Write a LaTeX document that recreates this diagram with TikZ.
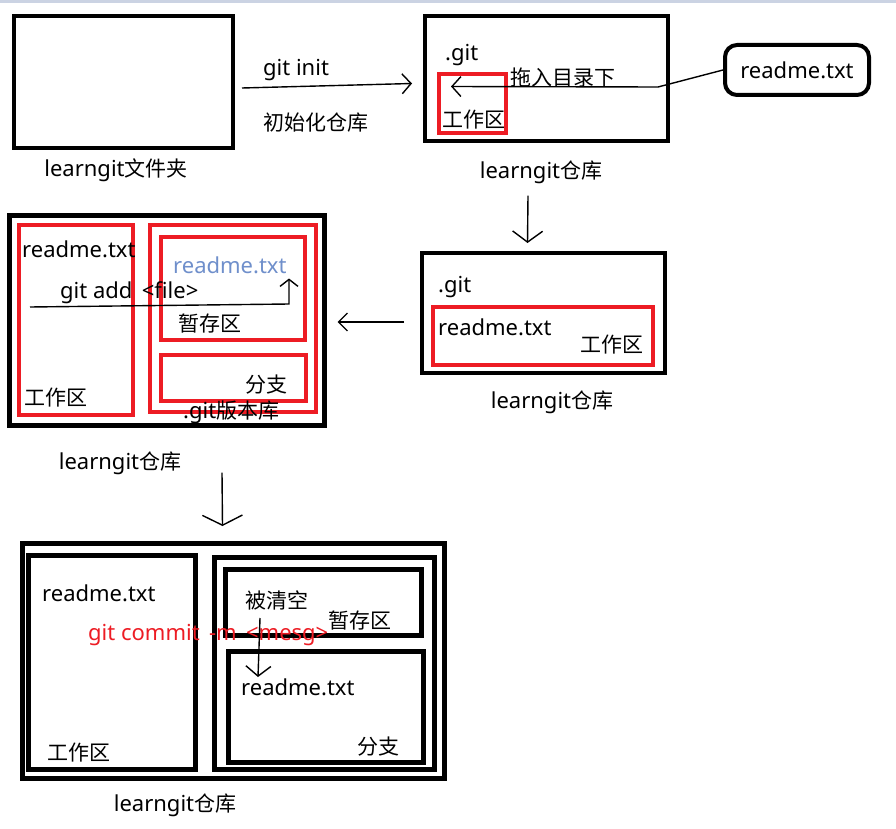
\documentclass[tikz,border=0pt]{standalone}
\usepackage{fontspec}
\setmainfont{Noto Sans}
\newfontfamily\cjk{Noto Sans CJK SC}
\usetikzlibrary{arrows.meta,calc}
\definecolor{pred}{HTML}{ED1C24}
\definecolor{pblue}{HTML}{6F8FCB}
\definecolor{pbar}{HTML}{CBD3E3}
\begin{document}
\begin{tikzpicture}[x=1pt,y=-1pt,
  box/.style={draw=black,line width=4pt,inner sep=0pt},
  rbox/.style={draw=pred,line width=4pt,inner sep=0pt},
  lbl/.style={inner sep=0pt,anchor=west,font=\fontsize{22}{26}\selectfont},
  clbl/.style={inner sep=0pt,font=\fontsize{22}{26}\selectfont},
  arr/.style={line width=1.4pt,-{Straight Barb[length=9pt,width=20pt,line width=1.4pt]}},
  ln/.style={line width=1.4pt}]
\useasboundingbox (0,0) rectangle (896,829);
\fill[white] (0,0) rectangle (896,829);
\fill[pbar] (0,0) rectangle (896,3);
% ---- box 1
\node[box,minimum width=219pt,minimum height=132pt] (b1) at (123.5,82) {};
\node[clbl] (l1) at (116,170) {learngit{\cjk\fontsize{21}{25}\selectfont 文件夹}};
\node[lbl] (gi) at (263,70) {git init};
\node[lbl] (gi2) at (263,123) {\cjk\fontsize{21}{25}\selectfont 初始化仓库};
% ---- box 2
\node[box,minimum width=243pt,minimum height=125pt] (b2) at (546.5,78.5) {};
\node[lbl] (g2) at (445,55) {.git};
\node[rbox,minimum width=67pt,minimum height=59pt] (r2) at (472.5,103.5) {};
\node[lbl] (w2) at (442,120) {\cjk\fontsize{21}{25}\selectfont 工作区};
\node[lbl] (drag) at (510,78) {\cjk\fontsize{21}{25}\selectfont 拖入目录下};
\node[box,rounded corners=12pt,minimum width=144pt,minimum height=50pt] (rd) at (797,70) {};
\node[clbl] at (rd.center) {readme.txt};
\node[clbl] (l2) at (541,172) {learngit{\cjk\fontsize{21}{25}\selectfont 仓库}};
% ---- box 3
\node[box,minimum width=243pt,minimum height=120pt] (b3) at (543.5,313) {};
\node[lbl] (g3) at (438,287) {.git};
\node[rbox,minimum width=220pt,minimum height=58pt] (r3) at (543,336) {};
\node[lbl] (rm3) at (438,327) {readme.txt};
\node[lbl] (w3) at (580,345) {\cjk\fontsize{21}{25}\selectfont 工作区};
\node[clbl] (l3) at (552,402) {learngit{\cjk\fontsize{21}{25}\selectfont 仓库}};
% ---- box 4
\node[box,line width=5pt,minimum width=315pt,minimum height=210pt] (b4) at (167,320.5) {};
\node[rbox,minimum width=114pt,minimum height=190pt] (r4l) at (76,320) {};
\node[rbox,minimum width=166pt,minimum height=187pt] (r4r) at (233,318.5) {};
\node[rbox,minimum width=144pt,minimum height=103pt] (r4s) at (233,288.5) {};
\node[rbox,minimum width=145pt,minimum height=46pt] (r4b) at (233.5,378) {};
\node[lbl] (rm4) at (22,249) {readme.txt};
\node[lbl,text=pblue] (rm4b) at (173,265) {readme.txt};
\node[lbl] (ga) at (60,293) {git add \,<file>};
\node[lbl] (s4) at (178,323) {\cjk\fontsize{21}{25}\selectfont 暂存区};
\node[lbl] (fz4) at (245,385) {\cjk\fontsize{21}{25}\selectfont 分支};
\node[lbl] (gv4) at (183,412) {.git{\cjk\fontsize{21}{25}\selectfont 版本库}};
\node[lbl] (w4) at (24,398) {\cjk\fontsize{21}{25}\selectfont 工作区};
\node[clbl] (l4) at (120,463) {learngit{\cjk\fontsize{21}{25}\selectfont 仓库}};
% ---- box 5
\node[box,line width=5pt,minimum width=422pt,minimum height=235pt] (b5) at (233.5,661) {};
\node[box,line width=5pt,minimum width=167pt,minimum height=214pt] (b5l) at (112,662.5) {};
\node[box,line width=5pt,minimum width=220pt,minimum height=212pt] (b5r) at (324.5,663.5) {};
\node[box,line width=5pt,minimum width=196pt,minimum height=66pt] (b5s) at (323.5,602.5) {};
\node[box,line width=5pt,minimum width=195pt,minimum height=111pt] (b5b) at (326,707) {};
\node[lbl] (rm5) at (42,593) {readme.txt};
\node[lbl] (w5) at (47,753) {\cjk\fontsize{21}{25}\selectfont 工作区};
\node[lbl] (qk) at (245,600) {\cjk\fontsize{21}{25}\selectfont 被清空};
\node[lbl] (s5) at (328,620) {\cjk\fontsize{21}{25}\selectfont 暂存区};
\node[lbl,text=pred] (gc) at (88,635) {git commit \,-m \,<mesg>};
\node[lbl] (rm5b) at (241,687) {readme.txt};
\node[lbl] (fz5) at (357,747) {\cjk\fontsize{21}{25}\selectfont 分支};
\node[clbl] (l5) at (175,805) {learngit{\cjk\fontsize{21}{25}\selectfont 仓库}};
% ---- connectors
\draw[arr] ($(b1.east)+(7,6)$) -- ($(b2.west)+(-11,5)$);
\draw[arr] (rd.west) -- ($(rd.west)+(-65,17)$) -- ($(r2.west)+(14,-17)$);
\draw[arr,-{Straight Barb[length=11pt,width=30pt,line width=1.4pt]}] ($(l2.south)+(-13,12)$) -- ($(b3.north)+(-16,-8)$);
\draw[arr,-{Straight Barb[length=9pt,width=18pt,line width=1.4pt]}] ($(b3.west)+(-16,9)$) -- ($(b4.east)+(10.5,1.5)$);
\draw[arr,-{Straight Barb[length=7pt,width=18pt,line width=1.4pt]}] ($(r4l.west)+(13,-13)$) -- ($(r4s.east)+(-18,15.5)$) -- ($(r4s.east)+(-18,-10)$);
\draw[arr,-{Straight Barb[length=10pt,width=40pt,line width=1.4pt]}] ($(l4.south)+(102,-2)$) -- ($(b5.north)+(-11,-15)$);
\draw[arr,-{Straight Barb[length=10pt,width=25pt,line width=1.4pt]}] ($(qk.west)+(15,18)$) -- ($(rm5b.west)+(17,-10)$);
\end{tikzpicture}
\end{document}
